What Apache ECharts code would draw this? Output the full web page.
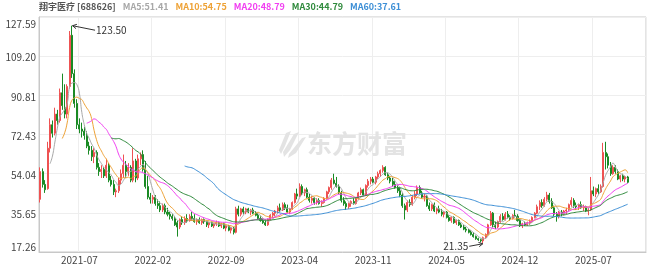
<!DOCTYPE html>
<html><head><meta charset="utf-8">
<script src="https://cdn.jsdelivr.net/npm/echarts@6/dist/echarts.min.js"></script>
<style>html,body{margin:0;padding:0;background:#fff}#c{width:660px;height:267px}</style>
</head><body><div id="c"></div>
<script>
const stockName = '翔宇医疗 [688626]';
const legendTexts = ['MA5:51.41', 'MA10:54.75', 'MA20:48.79', 'MA30:44.79', 'MA60:37.61'];
const maPeriods = [5, 10, 20, 30, 60];
const maColors = ['#a8a8a8', '#eea236', '#f13ef1', '#2f8a3c', '#3d8fd6'];
const yTicks = [17.26, 35.65, 54.04, 72.43, 90.81, 109.20, 127.59];
const xTickLabels = ['2021-07', '2022-02', '2022-09', '2023-04', '2023-11', '2024-05', '2024-12', '2025-07'];
const xTickFirst = 16, xTickStep = 30, slotCount = 248;

const opens = [42,55,49,47,66,77,73,82,79,92,
85,82,95,119,101,87,77,75,74,72,
67,65,62,64,57,55,56,53,58,51,
49,45.5,46,51,54,58,55,57,51,60,
52,61,63,56,48,43,42,43,40,39,
37,39,36,35,34,33,31,29,32.5,31,
33,32,34,33,31.5,32.5,31,32.5,31.5,30,
31,29.5,30.5,31,29.5,30.5,28.5,29.5,27.5,28.5,
26.5,37.5,35,37.5,36,37.5,36,37,35.5,34.5,
33,32,31,30,32.5,34.5,35.5,36.5,38,37,
39.5,38,36,37.5,40.5,44.5,43.5,48,45,46.5,
43,41.5,42.5,40.5,41.5,40,40.5,42.5,45.5,47.5,
51,49.5,48,45,41.5,40,38.5,40,41,40,
42.5,45,46.5,44,48.5,50.5,51.5,50,52.5,54,
55.5,57,53.5,52,50.5,49,47.5,46,44,39,
37,40.5,39.5,43,44.5,47.5,45,43,43.5,39,
37.5,39.5,36.5,37.5,36,35,36,33.5,32,33.5,
31,32,30,29,28,27.5,26.5,25.5,24.5,23.5,
23,22.5,24,25.5,30,35.5,30,29,31.5,34,
32.5,35,33.5,33,34.5,34,32,29.5,30.5,30,
31,31.5,33.5,35.5,38.5,40.5,39,42,44,41,
38,35,34,36,35,36.5,37,39.5,41.5,39,
38.5,39.5,38,38.5,36.5,37,46,44.5,47,45.5,
48,64,62,58,54,57,55,51.5,53,51.5,52.5];
const highs = [57,56.5,51,69,80,79,85,84,94,101,
96,96,121,123.5,103,89,80,78,76,74,
69,67,66,65,59,58,57,61,59,53,
51,47,52,56,63,60,59,58,66,61,
63,64,65,60,53,45,44,44,42,41,
40,40,38,36,35,34,32,33,34,34,
35,35,36,35,33,33.5,33,33,32,31.5,
31.5,31,32,31.5,31,31,30,30,29,29,
38.5,39,38,38.5,38,38,37.5,38,36.5,35.5,
34,33,32.5,33,35,36,37,39,40,40.5,
40.5,39.5,38,41,45,47,49.5,49,47,47.5,
44.5,43.5,43,42.5,42.5,41.5,43,46,48,52,
54,52.5,49,46,43,41,40.5,41.5,42.5,43,
45.5,47.5,47,49,51.5,52.5,52.5,53,55,56,
58,57.5,54.5,53,52,50.5,48.5,47.5,45,40,
41.5,42,44,46,48.5,48.5,46,44.5,44,40.5,
40,40.5,38,39,37.5,36.5,36.5,34.5,34,34,
32.5,32.5,31,30,29,28,27.5,26.5,25,24,
23.5,24.5,26,30.5,36.5,36,31.5,32,35,35.5,
36,36.5,34.5,35,37,35,33,31,31.5,31.5,
32.5,34,36,39.5,41.5,42,43,45.5,45,42.5,
39,36,36.5,37,37,38,40,43,42.5,40.5,
40,41,39.5,39,38,52.5,48,47.5,49,49,
68.5,69,63.5,59.5,58,58,56,53.5,54,53,53];
const lows = [40.5,47.5,45,46.5,64,71,72,77,78,84,
80,80,94,99,85,75,73,71,70,66,
63,60,59,56,53,52,52,52,50,48,
44,43,45,49,52,52,53,50,50,50,
51,58,55,47,42,40,40,39,37.5,36,
36,35,34,32.5,32,29.5,24.5,28,30,30,
31,31.5,32,31,30,30.5,30,30.5,29,28.5,
29,28.5,29.5,29,28.5,28,27,27,26,25.5,
26,34,34,35,35,35.5,34.5,35,34,32.5,
31.5,30.5,29.5,29.5,32,33,34,35.5,36,36.5,
37,35.5,35,37,40,42,43,44,43.5,42.5,
40.5,40,39.5,39.5,39.5,38.5,40,42,44.5,46.5,
49,47.5,44.5,40.5,39,37,37.5,38.5,39.5,39.5,
42,44,43.5,43.5,47.5,49,49.5,49,51.5,52.5,
54.5,53,51,49.5,48,47,45,43,38,32.5,
36,38.5,39,42,43.5,44.5,42.5,41,38.5,36.5,
36.5,36,35,35.5,34,33.5,33,31.5,31,30.5,
30,29.5,28.5,27.5,26.5,26,25,24,23,22.5,
21.8,21.35,23.5,25,29.5,29,28,28.5,31,32,
32,33,32,32.5,33.5,31.5,29,28.5,29.5,29.5,
30,31,33,35,37,38,38.5,41,40,37.5,
34,31.5,33,34,34.5,35,36.5,38.5,38,37,
37,37.5,36.5,36,34.5,36.5,43.5,43,44.5,45,
47.5,56,56.5,53,53.5,54,51,50,50.5,50,49.5];
const closes = [55,49,46.5,66,77,73,82,79,92,86,
82,95,119,101,87,77,75,74,72,67,
65,62,64,57,55,56,53,58,51,49,
45.5,46,51,54,58,55,57,51,60,52,
61,63,56,48,43,42,43,40,39,37,
39,36,35,34,33,30,29,32.5,31,33,
32,34,33,31.5,32.5,31,32.5,31.5,30,31,
29.5,30.5,31,29.5,30.5,28.5,29.5,27.5,28.5,26.5,
37.5,35,37.5,36,37.5,36,37,35.5,34.5,33,
32,31,30,32.5,34.5,35.5,36.5,38,37,39.5,
38,36,37.5,40.5,44.5,43.5,48,45,46.5,43,
41.5,42.5,40.5,41.5,40,40.5,42.5,45.5,47.5,51,
49.5,48,45,41.5,40,38.5,40,41,40,42.5,
45,46.5,44,48.5,50.5,51.5,50,52.5,54,55.5,
57,53.5,52,50.5,49,47.5,46,44,39,37,
40.5,39.5,43,44.5,47.5,45,43,43.5,39,37.5,
39.5,36.5,37.5,36,35,36,33.5,32,33.5,31,
32,30,29,28,27.5,26.5,25.5,24.5,23.5,23,
22.5,24,25.5,30,35.5,30,29,31.5,34,32.5,
35,33.5,33,34.5,34,32,29.5,30.5,30,31,
31.5,33.5,35.5,38.5,40.5,39,42,44,41,38,
35,34,36,35,36.5,37,39.5,41.5,39,38.5,
39.5,38,38.5,36.5,37,46,44.5,47,45.5,48,
64,62,58,54,57,55,51.5,53,51.5,52.5,50];

const categories = [];
for (let i = 0; i < slotCount; i++) categories.push(String(i));
const kData = opens.map((o, i) => [o, closes[i], lows[i], highs[i]]);
function movingAvg(p) {
  return closes.map((c, i) => {
    if (i < p - 1) return '-';
    let s = 0;
    for (let k = i - p + 1; k <= i; k++) s += closes[k];
    return +(s / p).toFixed(3);
  });
}
const isTick = (i) => i >= xTickFirst && (i - xTickFirst) % xTickStep === 0;
const FONT = '"Noto Sans CJK SC", "Noto Sans", sans-serif';

const chart = echarts.init(document.getElementById('c'), null, {renderer: 'canvas'});

const richLegend = {n: {color: '#555', fontSize: 9, fontFamily: FONT, padding: [0, 7, 0, 0]}};
let titleText = '{n|' + stockName + '}';
legendTexts.forEach((t, k) => {
  richLegend['m' + k] = {color: maColors[k], fontSize: 9, fontFamily: FONT, padding: [0, 7, 0, 0]};
  titleText += '{m' + k + '|' + t + '}';
});

const series = [{
  type: 'candlestick',
  data: kData,
  barWidth: '62%',
  itemStyle: {color: '#f36b6b', color0: '#1f9a2a', borderColor: '#ee5252', borderColor0: '#1a8a24', borderWidth: 1},
  z: 3
}];
maPeriods.forEach((p, k) => {
  series.push({
    type: 'line', data: movingAvg(p), showSymbol: false, symbol: 'none', smooth: true,
    lineStyle: {color: maColors[k], width: 1}, z: 4, silent: true
  });
});

chart.setOption({
  animation: false,
  backgroundColor: '#fff',
  title: {text: titleText, left: 39, top: 2, padding: 0, textStyle: {rich: richLegend, fontSize: 9}},
  grid: {left: 39, right: 14, top: 17, bottom: 15, show: true, borderColor: '#c8c8c8', borderWidth: 1, backgroundColor: 'transparent'},
  xAxis: {
    type: 'category', data: categories, boundaryGap: true,
    axisLine: {show: true, lineStyle: {color: '#c8c8c8'}},
    axisTick: {show: false},
    axisLabel: {
      interval: (i) => isTick(i), fontSize: 10, color: '#444', fontFamily: FONT, margin: 3,
      formatter: (v, i) => xTickLabels[(i - xTickFirst) / xTickStep] || ''
    },
    splitLine: {show: true, interval: (i) => isTick(i), lineStyle: {color: '#eeeeee', width: 1}}
  },
  yAxis: {
    type: 'value', min: yTicks[0], max: yTicks[yTicks.length - 1], scale: true,
    axisLine: {show: true, lineStyle: {color: '#c8c8c8'}},
    axisTick: {show: false, customValues: yTicks},
    splitLine: {show: true, lineStyle: {color: '#eeeeee', width: 1}},
    axisLabel: {
      customValues: yTicks, fontSize: 10, color: '#444', fontFamily: FONT, margin: 3,
      formatter: (v) => {
        const s = (+v).toFixed(2);
        if (Math.abs(v - yTicks[yTicks.length - 1]) < 1e-6) return '{t|' + s + '}';
        if (Math.abs(v - yTicks[0]) < 1e-6) return '{b|' + s + '}';
        return '{m|' + s + '}';
      },
      rich: {
        t: {fontSize: 10, color: '#444', fontFamily: FONT, padding: [14, 0, 0, 0]},
        b: {fontSize: 10, color: '#444', fontFamily: FONT, padding: [0, 0, 9, 0]},
        m: {fontSize: 10, color: '#444', fontFamily: FONT, padding: [3, 0, 0, 0]}
      }
    }
  },
  series: series
});

// watermark
const wm = '#e3e3e3';
const graphics = [
  {type: 'text', left: 307, top: 131, z: 1, style: {text: '东方财富', fill: wm, font: 'bold 25px ' + FONT}},
  {type: 'polygon', z: 1, shape: {points: [[286,133],[291,131],[285,146],[281,154],[279,150]]}, style: {fill: wm}},
  {type: 'polygon', z: 1, shape: {points: [[294,134],[299,132],[290,150],[284,157],[283,152]]}, style: {fill: wm}},
  {type: 'polygon', z: 1, shape: {points: [[302,138],[306,137],[296,153],[288,158],[289,154]]}, style: {fill: wm}}
];

// high / low annotations, anchored to the data via the axes
function arrowGraphics(tip, tail, text, align) {
  const dx = tip[0] - tail[0], dy = tip[1] - tail[1];
  const L = Math.hypot(dx, dy), ux = dx / L, uy = dy / L, nx = -uy, ny = ux;
  return [
    {type: 'line', z: 10, shape: {x1: tail[0], y1: tail[1], x2: tip[0], y2: tip[1]}, style: {stroke: '#333', lineWidth: 1}},
    {type: 'polyline', z: 10, shape: {points: [[tip[0] - ux * 4 + nx * 2.2, tip[1] - uy * 4 + ny * 2.2], tip, [tip[0] - ux * 4 - nx * 2.2, tip[1] - uy * 4 - ny * 2.2]]}, style: {stroke: '#333', lineWidth: 1, fill: null}},
    {type: 'text', z: 10, x: align === 'left' ? tail[0] + 1 : tail[0] - 1, y: tail[1],
      style: {text: text, fill: '#333', font: '10px ' + FONT, align: align, verticalAlign: 'middle'}}
  ];
}
const hiVal = Math.max(...highs), hiIdx = highs.indexOf(hiVal);
const loVal = Math.min(...lows), loIdx = lows.indexOf(loVal);
const pHi = chart.convertToPixel({gridIndex: 0}, [hiIdx, hiVal]);
const pLo = chart.convertToPixel({gridIndex: 0}, [loIdx, loVal]);
graphics.push(...arrowGraphics([pHi[0] + 0.5, pHi[1]], [pHi[0] + 23, pHi[1] + 4.5], hiVal.toFixed(2), 'left'));
graphics.push(...arrowGraphics([pLo[0] - 0.5, pLo[1] + 0.5], [pLo[0] - 14, pLo[1] + 3], loVal.toFixed(2), 'right'));
chart.setOption({graphic: graphics});
</script>
</body></html>
